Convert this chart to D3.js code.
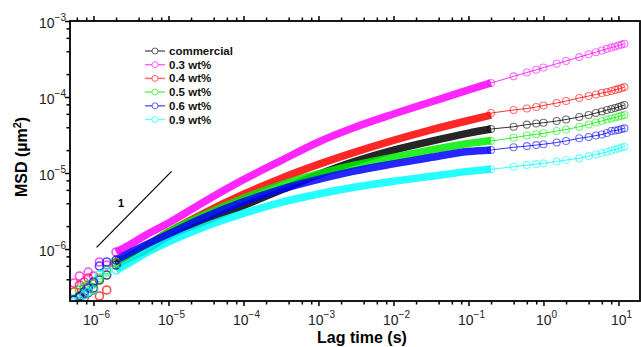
<!DOCTYPE html>
<html>
<head>
<meta charset="utf-8">
<script src="https://cdn.jsdelivr.net/npm/d3@7/dist/d3.min.js"></script>
<style>
  html, body { margin: 0; padding: 0; background: #fff; }
  svg { display: block; font-family: 'Liberation Sans', Arial, sans-serif; }
</style>
</head>
<body>
<svg id="chart" width="641" height="347"></svg>
<script>
const SERIES = ['commercial', '0.3 wt%', '0.4 wt%', '0.5 wt%', '0.6 wt%', '0.9 wt%']
const COLORS = ['#000000', '#ff00ff', '#ff0000', '#00ee00', '#0000ff', '#00ffff']

// fast (dense) part of each MSD curve, lag time in s, MSD in µm²
const fastTime = [5.5e-7, 6.5e-7, 7.5e-7, 8.5e-7, 1e-6, 1.2e-6, 1.5e-6, 2e-6, 3e-6, 5e-6,
  1e-5, 2.7e-5, 1e-4, 3.1e-4, 1e-3, 3e-3, 1e-2, 3e-2, 0.1, 0.2]
const fastCommercial = [2.13e-7, 2.41e-7, 2.56e-7, 2.64e-7, 3.07e-7, 3.91e-7, 4.55e-7, 6.15e-7, 7.62e-7, 9.70e-7,
  1.48e-6, 2.22e-6, 3.73e-6, 5.92e-6, 9.55e-6, 1.41e-5, 2.00e-5, 2.59e-5, 3.35e-5, 3.79e-5]
const fast03 = [3.57e-7, 4.42e-7, 3.68e-7, 4.98e-7, 4.42e-7, 6.75e-7, 6.15e-7, 9.14e-7, 1.13e-6, 1.53e-6,
  2.20e-6, 3.95e-6, 8.17e-6, 1.44e-5, 2.56e-5, 3.97e-5, 5.97e-5, 8.47e-5, 1.24e-4, 1.53e-4]
const fast04 = [2.72e-7, 3.36e-7, 2.26e-7, 4.15e-7, 2.89e-7, 2.41e-7, 2.89e-7, 6.55e-7, 8.09e-7, 1.09e-6,
  1.67e-6, 2.82e-6, 5.25e-6, 8.43e-6, 1.30e-5, 1.87e-5, 2.69e-5, 3.64e-5, 4.91e-5, 5.78e-5]
const fast05 = [2.20e-7, 2.89e-7, 3.16e-7, 3.36e-7, 3.46e-7, 4.15e-7, 5.30e-7, 6.75e-7, 8.09e-7, 1.06e-6,
  1.67e-6, 2.68e-6, 4.65e-6, 6.95e-6, 9.75e-6, 1.27e-5, 1.62e-5, 1.98e-5, 2.44e-5, 2.67e-5]
const fast06 = [2.13e-7, 2.33e-7, 2.72e-7, 3.07e-7, 3.68e-7, 5.97e-7, 6.75e-7, 7.16e-7, 8.85e-7, 1.13e-6,
  1.57e-6, 2.49e-6, 4.18e-6, 6.07e-6, 8.26e-6, 1.06e-5, 1.32e-5, 1.59e-5, 1.92e-5, 2.01e-5]
const fast09 = [2.01e-7, 2.13e-7, 2.48e-7, 2.72e-7, 2.89e-7, 4.55e-7, 4.98e-7, 5.30e-7, 6.55e-7, 8.85e-7,
  1.24e-6, 1.88e-6, 2.94e-6, 4.08e-6, 5.30e-6, 6.49e-6, 7.78e-6, 8.99e-6, 1.05e-5, 1.13e-5]

// slow (sparse) part, 0.2 s to 12 s
const slowTime = [0.2, 0.4, 0.6, 0.8, 1, 1.5, 2, 3, 4, 5, 6, 7, 8, 9, 10, 11, 12]
const slowCommercial = [3.79e-5, 4.06e-5, 4.33e-5, 4.48e-5, 4.59e-5, 4.83e-5, 5.06e-5, 5.46e-5, 5.79e-5,
  6.15e-5, 6.44e-5, 6.75e-5, 6.95e-5, 7.16e-5, 7.38e-5, 7.62e-5, 7.85e-5]
const slow03 = [1.53e-4, 1.87e-4, 2.10e-4, 2.28e-4, 2.44e-4, 2.74e-4, 2.98e-4, 3.35e-4, 3.65e-4,
  3.88e-4, 4.10e-4, 4.30e-4, 4.47e-4, 4.61e-4, 4.76e-4, 4.89e-4, 5.01e-4]
const slow04 = [6.15e-5, 6.75e-5, 7.06e-5, 7.38e-5, 7.73e-5, 8.34e-5, 8.85e-5, 9.70e-5, 1.03e-4,
  1.08e-4, 1.13e-4, 1.16e-4, 1.20e-4, 1.24e-4, 1.27e-4, 1.31e-4, 1.35e-4]
const slow05 = [2.64e-5, 2.91e-5, 3.11e-5, 3.23e-5, 3.33e-5, 3.57e-5, 3.73e-5, 4.06e-5, 4.35e-5,
  4.61e-5, 4.83e-5, 5.06e-5, 5.21e-5, 5.37e-5, 5.53e-5, 5.68e-5, 5.79e-5]
const slow06 = [2.01e-5, 2.18e-5, 2.26e-5, 2.33e-5, 2.39e-5, 2.52e-5, 2.64e-5, 2.86e-5, 2.98e-5,
  3.11e-5, 3.21e-5, 3.36e-5, 3.57e-5, 3.62e-5, 3.68e-5, 3.79e-5, 3.87e-5]
const slow09 = [1.12e-5, 1.21e-5, 1.27e-5, 1.31e-5, 1.34e-5, 1.42e-5, 1.48e-5, 1.56e-5, 1.67e-5,
  1.75e-5, 1.83e-5, 1.89e-5, 1.98e-5, 2.04e-5, 2.10e-5, 2.17e-5, 2.22e-5]

// slope-1 guide line
const slopeTime = [1.1e-6, 1.1e-5]
const slopeMsd = [1.05e-6, 1.05e-5]

const xMajor = [1e-6, 1e-5, 1e-4, 1e-3, 1e-2, 1e-1, 1, 10]
const xExp = ['\u22126', '\u22125', '\u22124', '\u22123', '\u22122', '\u22121', '0', '1']
const yMajor = [1e-6, 1e-5, 1e-4, 1e-3]
const yExp = ['\u22126', '\u22125', '\u22124', '\u22123']

const FAST = [fastCommercial, fast03, fast04, fast05, fast06, fast09]
const SLOW = [slowCommercial, slow03, slow04, slow05, slow06, slow09]
const NOISY_UNTIL = 2e-6 // below this the points are a scattered cloud, no band

const L = 70, R = 640, T = 21, B = 301

const x = d3.scaleLog()
  .domain([Math.pow(10, -6.313), Math.pow(10, 1.287)])
  .range([L, R])
const y = d3.scaleLog()
  .domain([Math.pow(10, -6.684), 1e-3])
  .range([B, T])

function minorsOf(lo, hi) {
  const out = []
  for (let e = lo; e <= hi; e++) for (const m of [2, 4, 6, 8]) out.push(m * Math.pow(10, e))
  return out
}
const xMinor = minorsOf(-7, 1).filter(v => v >= x.domain()[0] && v <= x.domain()[1])
const yMinor = minorsOf(-7, -4).filter(v => v >= y.domain()[0] && v <= y.domain()[1])

const svg = d3.select('#chart')

svg.append('defs').append('clipPath').attr('id', 'plot-clip')
  .append('rect').attr('x', L).attr('y', T).attr('width', R - L).attr('height', B - T)

// data
const plot = svg.append('g').attr('clip-path', 'url(#plot-clip)')
const bandLayer = plot.append('g')
const cloudLayer = plot.append('g')
const line = d3.line().x(d => x(d[0])).y(d => y(d[1]))

SERIES.forEach((name, i) => {
  const fast = fastTime.map((t, k) => [t, FAST[i][k]])
  const band = fast.filter(d => d[0] >= NOISY_UNTIL)
  const cloud = fast.filter(d => d[0] <= NOISY_UNTIL)
  const slow = slowTime.map((t, k) => [t, SLOW[i][k]])
  const g = bandLayer.append('g')

  g.append('path')
    .datum(band)
    .attr('d', line.curve(d3.curveMonotoneX))
    .attr('fill', 'none')
    .attr('stroke', COLORS[i])
    .attr('stroke-width', 7.5)
    .attr('stroke-opacity', 0.85)

  cloudLayer.append('g').selectAll('circle').data(cloud).enter().append('circle')
    .attr('cx', d => x(d[0])).attr('cy', d => y(d[1]))
    .attr('r', 4)
    .attr('fill', 'none')
    .attr('stroke', COLORS[i])
    .attr('stroke-width', 1.6)
    .attr('stroke-opacity', 0.7)

  g.append('path')
    .datum([band[band.length - 1]].concat(slow))
    .attr('d', line.curve(d3.curveLinear))
    .attr('fill', 'none')
    .attr('stroke', COLORS[i])
    .attr('stroke-width', 1)
    .attr('stroke-opacity', 0.8)

  g.selectAll('.slow-pt').data(slow).enter().append('circle')
    .attr('cx', d => x(d[0])).attr('cy', d => y(d[1]))
    .attr('r', 3.5)
    .attr('fill', 'none')
    .attr('stroke', COLORS[i])
    .attr('stroke-width', 1.1)
    .attr('stroke-opacity', 0.55)
})

// slope guide
svg.append('line')
  .attr('x1', x(slopeTime[0])).attr('y1', y(slopeMsd[0]))
  .attr('x2', x(slopeTime[1])).attr('y2', y(slopeMsd[1]))
  .attr('stroke', '#000').attr('stroke-width', 1.2)
svg.append('text')
  .attr('x', 121).attr('y', 207)
  .attr('text-anchor', 'middle')
  .attr('font-size', '11px').attr('font-weight', 'bold')
  .text('1')

// axes: ticks only, the frame is drawn separately
function ticks(axisFn, scale, vals, size, tr) {
  const g = svg.append('g').attr('transform', tr)
    .call(axisFn(scale).tickValues(vals).tickSize(size).tickFormat(''))
  g.select('.domain').remove()
  g.selectAll('line').attr('stroke', '#000').attr('stroke-width', 1.5)
}
ticks(d3.axisBottom, x, xMajor, 5, `translate(0,${B})`)
ticks(d3.axisBottom, x, xMinor, 3.5, `translate(0,${B})`)
ticks(d3.axisTop, x, xMajor, 5, `translate(0,${T})`)
ticks(d3.axisTop, x, xMinor, 3.5, `translate(0,${T})`)
ticks(d3.axisLeft, y, yMajor, 5, `translate(${L},0)`)
ticks(d3.axisLeft, y, yMinor, 3.5, `translate(${L},0)`)

svg.append('rect')
  .attr('x', L).attr('y', T).attr('width', R - L).attr('height', B - T)
  .attr('fill', 'none').attr('stroke', '#000').attr('stroke-width', 1.8)

// tick labels with superscript exponents
function powLabel(sel, exp) {
  sel.append('tspan').text('10')
  sel.append('tspan').attr('dy', -7).attr('font-size', '10px').text(exp)
}
xMajor.forEach((v, i) => {
  svg.append('text')
    .attr('x', x(v) + 3).attr('y', B + 24)
    .attr('text-anchor', 'middle')
    .attr('font-size', '14px').attr('fill', '#222')
    .call(powLabel, xExp[i])
})
yMajor.forEach((v, i) => {
  svg.append('text')
    .attr('x', L - 4).attr('y', y(v) + 7)
    .attr('text-anchor', 'end')
    .attr('font-size', '14px').attr('fill', '#222')
    .call(powLabel, yExp[i])
})

// axis titles
svg.append('text')
  .attr('x', 362).attr('y', 343)
  .attr('text-anchor', 'middle')
  .attr('font-size', '16px').attr('font-weight', 'bold')
  .text('Lag time (s)')

const yt = svg.append('text')
  .attr('transform', 'translate(27,157) rotate(-90)')
  .attr('text-anchor', 'middle')
  .attr('font-size', '16px').attr('font-weight', 'bold')
yt.append('tspan').text('MSD (\u00b5m')
yt.append('tspan').attr('dy', -6).attr('font-size', '11px').text('2')
yt.append('tspan').attr('dy', 6).text(')')

// legend
const legend = svg.append('g').attr('transform', 'translate(145,51)')
SERIES.forEach((name, i) => {
  const row = legend.append('g').attr('transform', `translate(0,${i * 13.7})`)
  row.append('line')
    .attr('x1', 0).attr('x2', 20)
    .attr('stroke', COLORS[i]).attr('stroke-opacity', 0.6).attr('stroke-width', 1.5)
  row.append('circle')
    .attr('cx', 10).attr('r', 3)
    .attr('fill', '#fff')
    .attr('stroke', COLORS[i]).attr('stroke-opacity', 0.6)
  row.append('text')
    .attr('x', 24).attr('y', 4)
    .attr('font-size', '11.5px').attr('font-weight', 'bold').attr('fill', '#111')
    .text(name)
})
</script>
</body>
</html>
